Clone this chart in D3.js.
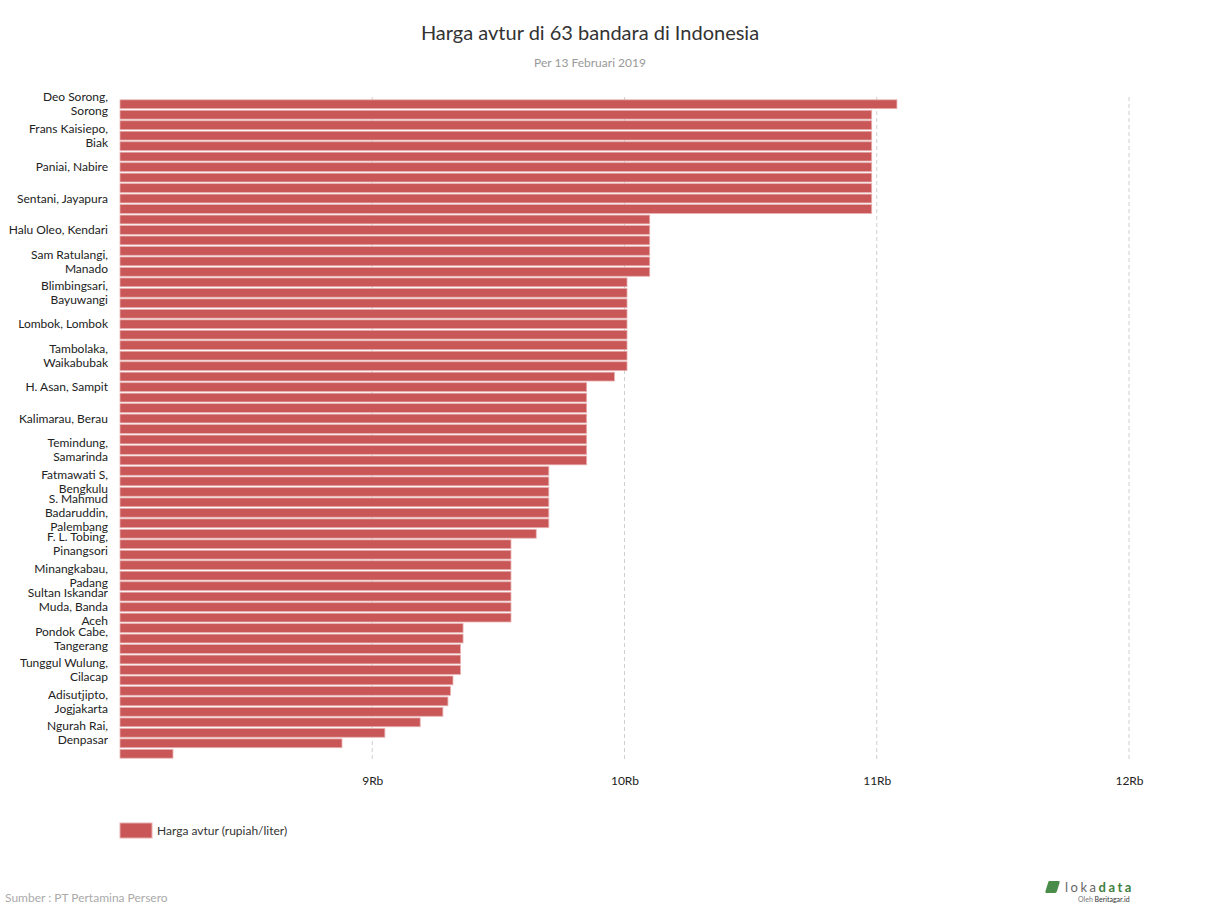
<!DOCTYPE html>
<html>
<head>
<meta charset="utf-8">
<script src="https://cdn.jsdelivr.net/npm/d3@7"></script>
<style>
  body { margin: 0; background: #fff; font-family: Lato, "Noto Sans", sans-serif; }
</style>
</head>
<body>
<div id="chart"></div>
<script>
// airport names shown on the axis (only every third bar gets a label)
const shownLabels = [
  "Deo Sorong, Sorong", "Frans Kaisiepo, Biak", "Paniai, Nabire", "Sentani, Jayapura",
  "Halu Oleo, Kendari", "Sam Ratulangi, Manado", "Blimbingsari, Bayuwangi", "Lombok, Lombok",
  "Tambolaka, Waikabubak", "H. Asan, Sampit", "Kalimarau, Berau", "Temindung, Samarinda",
  "Fatmawati S, Bengkulu", "S. Mahmud Badaruddin, Palembang", "F. L. Tobing, Pinangsori",
  "Minangkabau, Padang", "Sultan Iskandar Muda, Banda Aceh", "Pondok Cabe, Tangerang",
  "Tunggul Wulung, Cilacap", "Adisutjipto, Jogjakarta", "Ngurah Rai, Denpasar"
];

// price of avtur per bar, rupiah/liter, top to bottom
const prices = [
  11080,
  10980, 10980, 10980, 10980, 10980, 10980, 10980, 10980, 10980, 10980,
  10100, 10100, 10100, 10100, 10100, 10100,
  10010, 10010, 10010, 10010, 10010, 10010, 10010, 10010, 10010,
  9960,
  9850, 9850, 9850, 9850, 9850, 9850, 9850, 9850,
  9700, 9700, 9700, 9700, 9700, 9700,
  9650,
  9550, 9550, 9550, 9550, 9550, 9550, 9550, 9550,
  9360, 9360,
  9350, 9350, 9350,
  9320, 9310, 9300, 9280, 9190, 9050, 8880, 8210
];

// categories: index per bar, named where the chart shows a name
const categories = prices.map((p, i) => i % 3 === 0 && shownLabels[i / 3] ? shownLabels[i / 3] : "bandara " + (i + 1));

const xTicks = [9000, 10000, 11000, 12000];

const W = 1210, H = 910;
const margin = {top: 99, right: 81, bottom: 151, left: 120},
    width = W - margin.left - margin.right,
    height = H - margin.top - margin.bottom;

const svg = d3.select("#chart")
    .append("svg")
    .attr("width", W)
    .attr("height", H);

// title
svg.append("text")
    .attr("x", W / 2 - 15)
    .attr("y", 40)
    .attr("text-anchor", "middle")
    .attr("font-size", "20px")
    .attr("fill", "#333")
    .text("Harga avtur di 63 bandara di Indonesia");

svg.append("text")
    .attr("x", W / 2 - 15)
    .attr("y", 67)
    .attr("text-anchor", "middle")
    .attr("font-size", "12px")
    .attr("fill", "#999")
    .text("Per 13 Februari 2019");

const g = svg.append("g")
    .attr("transform", `translate(${margin.left},${margin.top})`);

const x = d3.scaleLinear()
    .domain([8000, 12000])
    .range([0, width]);

const y = d3.scaleBand()
    .domain(d3.range(prices.length))
    .range([0, height])
    .paddingInner(0.16)
    .paddingOuter(0.08);

// grid lines
g.append("g")
    .selectAll("line")
    .data(xTicks)
    .join("line")
    .attr("x1", d => x(d))
    .attr("x2", d => x(d))
    .attr("y1", -2)
    .attr("y2", height)
    .attr("stroke", "#cfcfcf")
    .attr("stroke-dasharray", "4,3");

// bars
g.append("g")
    .selectAll("rect")
    .data(prices)
    .join("rect")
    .attr("x", 0)
    .attr("y", (d, i) => y(i))
    .attr("width", d => x(d))
    .attr("height", y.bandwidth())
    .attr("fill", "#c95757")
    .attr("stroke", "#e7b0b0")
    .attr("stroke-width", 0.8);

// x axis
const xAxis = g.append("g")
    .attr("transform", `translate(0,${height})`)
    .call(d3.axisBottom(x).tickValues(xTicks).tickSize(0).tickPadding(17)
        .tickFormat(d => (d / 1000) + "Rb"));
xAxis.select(".domain").remove();
xAxis.selectAll("text")
    .attr("font-family", "Lato, sans-serif")
    .attr("font-size", "12px")
    .attr("fill", "#222");

// y labels, every third category, wrapped
function wrapWords(str, maxW) {
  const ctx = document.createElement("canvas").getContext("2d");
  ctx.font = "12px Lato";
  const words = str.split(" ");
  const lines = [];
  let line = "";
  words.forEach(w => {
    const t = line ? line + " " + w : w;
    if (ctx.measureText(t).width > maxW && line) {
      lines.push(line);
      line = w;
    } else {
      line = t;
    }
  });
  lines.push(line);
  return lines;
}

const yLab = g.append("g")
    .selectAll("text")
    .data(categories.map((c, i) => ({c, i})).filter(d => d.i % 3 === 0 && d.i / 3 < shownLabels.length))
    .join("text")
    .attr("x", -12)
    .attr("font-size", "12px")
    .attr("fill", "#222")
    .attr("text-anchor", "end");

yLab.each(function(d) {
  // long names wrap a bit narrower, as in the original
  const lines = wrapWords(d.c, d.c.split(" ").length > 4 ? 90 : 101);
  const cy = y(d.i) + y.bandwidth() / 2;
  const top = cy - (lines.length - 1) * 14 / 2;
  d3.select(this).selectAll("tspan")
      .data(lines)
      .join("tspan")
      .attr("x", -12)
      .attr("y", (l, k) => top + k * 14)
      .attr("dy", "0.35em")
      .text(l => l);
});

// legend
svg.append("rect")
    .attr("x", 120).attr("y", 823)
    .attr("width", 32).attr("height", 15)
    .attr("fill", "#c95757")
    .attr("stroke", "#e7b0b0");
svg.append("text")
    .attr("x", 157).attr("y", 834.5)
    .attr("font-size", "12px")
    .attr("fill", "#333")
    .text("Harga avtur (rupiah/liter)");

// source
svg.append("text")
    .attr("x", 5).attr("y", 902)
    .attr("font-size", "12px")
    .attr("fill", "#aaa")
    .text("Sumber : PT Pertamina Persero");

// logo
const logo = svg.append("g").attr("transform", "translate(1047,881)");
logo.append("path")
    .attr("d", "M2,0 H12 Q13,0 12.5,2 L10,10 Q9.5,12 8,12 H-1 Q-2,12 -1.5,10 L1,2 Q1.5,0 2,0 Z")
    .attr("fill", "#4a8c4a");
logo.append("text")
    .attr("x", 18).attr("y", 11)
    .attr("font-size", "13px")
    .attr("letter-spacing", "2.5px")
    .attr("fill", "#666")
    .text("loka")
  .append("tspan")
    .attr("fill", "#3f7f3f")
    .attr("font-weight", "bold")
    .text("data");
logo.append("text")
    .attr("x", 31).attr("y", 21)
    .attr("font-size", "7px")
    .attr("fill", "#777")
    .text("Oleh ")
  .append("tspan")
    .attr("fill", "#333")
    .text("Beritagar.id");
</script>
</body>
</html>
